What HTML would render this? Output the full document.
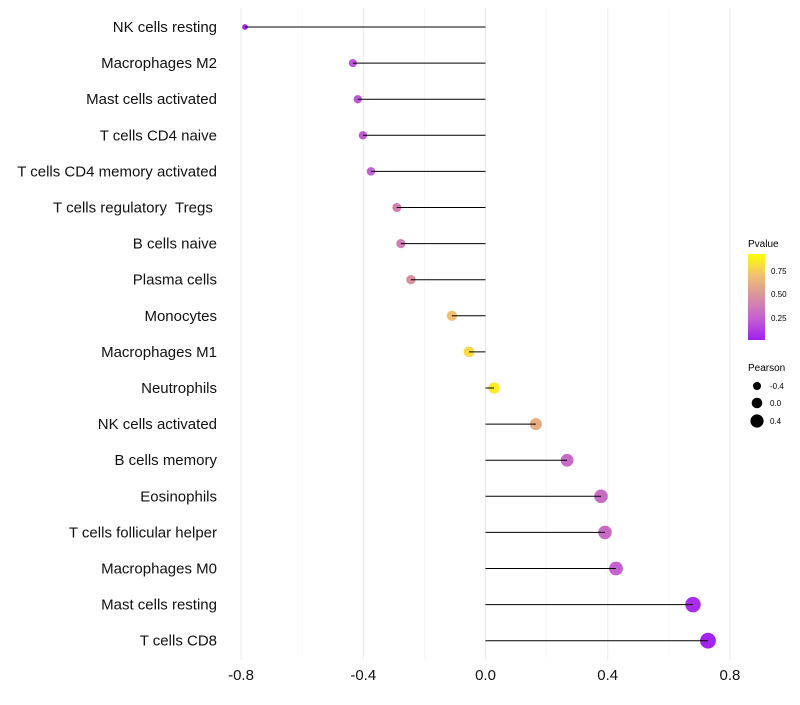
<!DOCTYPE html>
<html><head><meta charset="utf-8"><style>
body{margin:0;background:#fff;font-family:"Liberation Sans",sans-serif}
text{white-space:pre}
</style></head><body>
<svg id="chart" width="800" height="700" xmlns="http://www.w3.org/2000/svg" font-family="Liberation Sans, sans-serif">
<g id="grid"></g>
<g id="points"></g>
<g id="marks"></g>
<g id="ylabels"></g>
<g id="xlabels"></g>
<g>
<defs><linearGradient id="pg" x1="0" y1="1" x2="0" y2="0">
<stop offset="0" stop-color="#a020f0"/><stop offset="0.25" stop-color="#c460d0"/><stop offset="0.5" stop-color="#d890a0"/><stop offset="0.75" stop-color="#f0c070"/><stop offset="1" stop-color="#ffff00"/></linearGradient></defs>
<text x="748" y="247" font-size="10" fill="#000">Pvalue</text>
<rect x="748" y="254" width="17" height="86" fill="url(#pg)"/>
<text x="771" y="274" font-size="8">0.75</text>
<text x="771" y="297" font-size="8">0.50</text>
<text x="771" y="321" font-size="8">0.25</text>
</g>
<g>
<text x="748" y="371" font-size="10">Pearson</text>
<circle cx="757" cy="386" r="4" fill="#000"/>
<circle cx="757" cy="403" r="5.3" fill="#000"/>
<circle cx="757" cy="421" r="6.6" fill="#000"/>
<text x="770" y="389" font-size="8">-0.4</text>
<text x="770" y="406" font-size="8">0.0</text>
<text x="770" y="424" font-size="8">0.4</text>
</g>
</svg>
<script>
const categories=["NK cells resting","Macrophages M2","Mast cells activated","T cells CD4 naive","T cells CD4 memory activated","T cells regulatory  Tregs ","B cells naive","Plasma cells","Monocytes","Macrophages M1","Neutrophils","NK cells activated","B cells memory","Eosinophils","T cells follicular helper","Macrophages M0","Mast cells resting","T cells CD8"];
const pearson=[-0.787,-0.434,-0.418,-0.401,-0.375,-0.29,-0.277,-0.244,-0.11,-0.054,0.028,0.165,0.267,0.378,0.391,0.427,0.679,0.728];
const pvalue=[0.01,0.2,0.2,0.22,0.25,0.4,0.4,0.5,0.75,0.85,0.92,0.65,0.3,0.3,0.3,0.25,0.05,0.02];
const xTicks=[-0.8,-0.4,0,0.4,0.8];
const xTickLabels=["-0.8","-0.4","0.0","0.4","0.8"];
const NS="http://www.w3.org/2000/svg";
const x=v=>485.5+v*305.6;
const y=i=>27+i*36.1;
const rad=v=>5.5+3.3*v;
const stops=[[0,[160,32,240]],[0.25,[196,96,208]],[0.5,[216,144,160]],[0.75,[240,192,112]],[1,[255,255,0]]];
function col(p){p=Math.max(0,Math.min(1,p));for(let k=1;k<stops.length;k++){if(p<=stops[k][0]){const a=stops[k-1],b=stops[k],t=(p-a[0])/(b[0]-a[0]);return "rgb("+a[1].map((c,j)=>Math.round(c+(b[1][j]-c)*t)).join(",")+")";}}}
function mk(tag,attrs,parent){const e=document.createElementNS(NS,tag);for(const k in attrs)e.setAttribute(k,attrs[k]);document.getElementById(parent).appendChild(e);return e;}
const yTop=8,yBot=660;
for(let v=-0.8;v<=0.81;v+=0.2){const major=Math.abs(Math.round(v*10)%4)===0;
const g=mk("line",{x1:x(v),x2:x(v),y1:yTop,y2:yBot,stroke:major?"#ebebeb":"#f4f4f4","stroke-width":major?1:0.6},"grid");

}
xTicks.forEach((t,i)=>{const e=mk("text",{x:x(t),y:680,"font-size":15,"text-anchor":"middle",fill:"#111"},"xlabels");e.textContent=xTickLabels[i];

});
categories.forEach((c,i)=>{
const t=mk("text",{x:217,y:y(i)+5,"font-size":15,"text-anchor":"end",fill:"#111"},"ylabels");t.textContent=c;


const p=mk("circle",{cx:x(pearson[i]),cy:y(i),r:rad(pearson[i]),fill:col(pvalue[i])},"points");


const l=mk("line",{x1:x(0),x2:x(pearson[i]),y1:y(i),y2:y(i),stroke:"#000","stroke-width":1},"marks");


});
</script>
</body></html>
